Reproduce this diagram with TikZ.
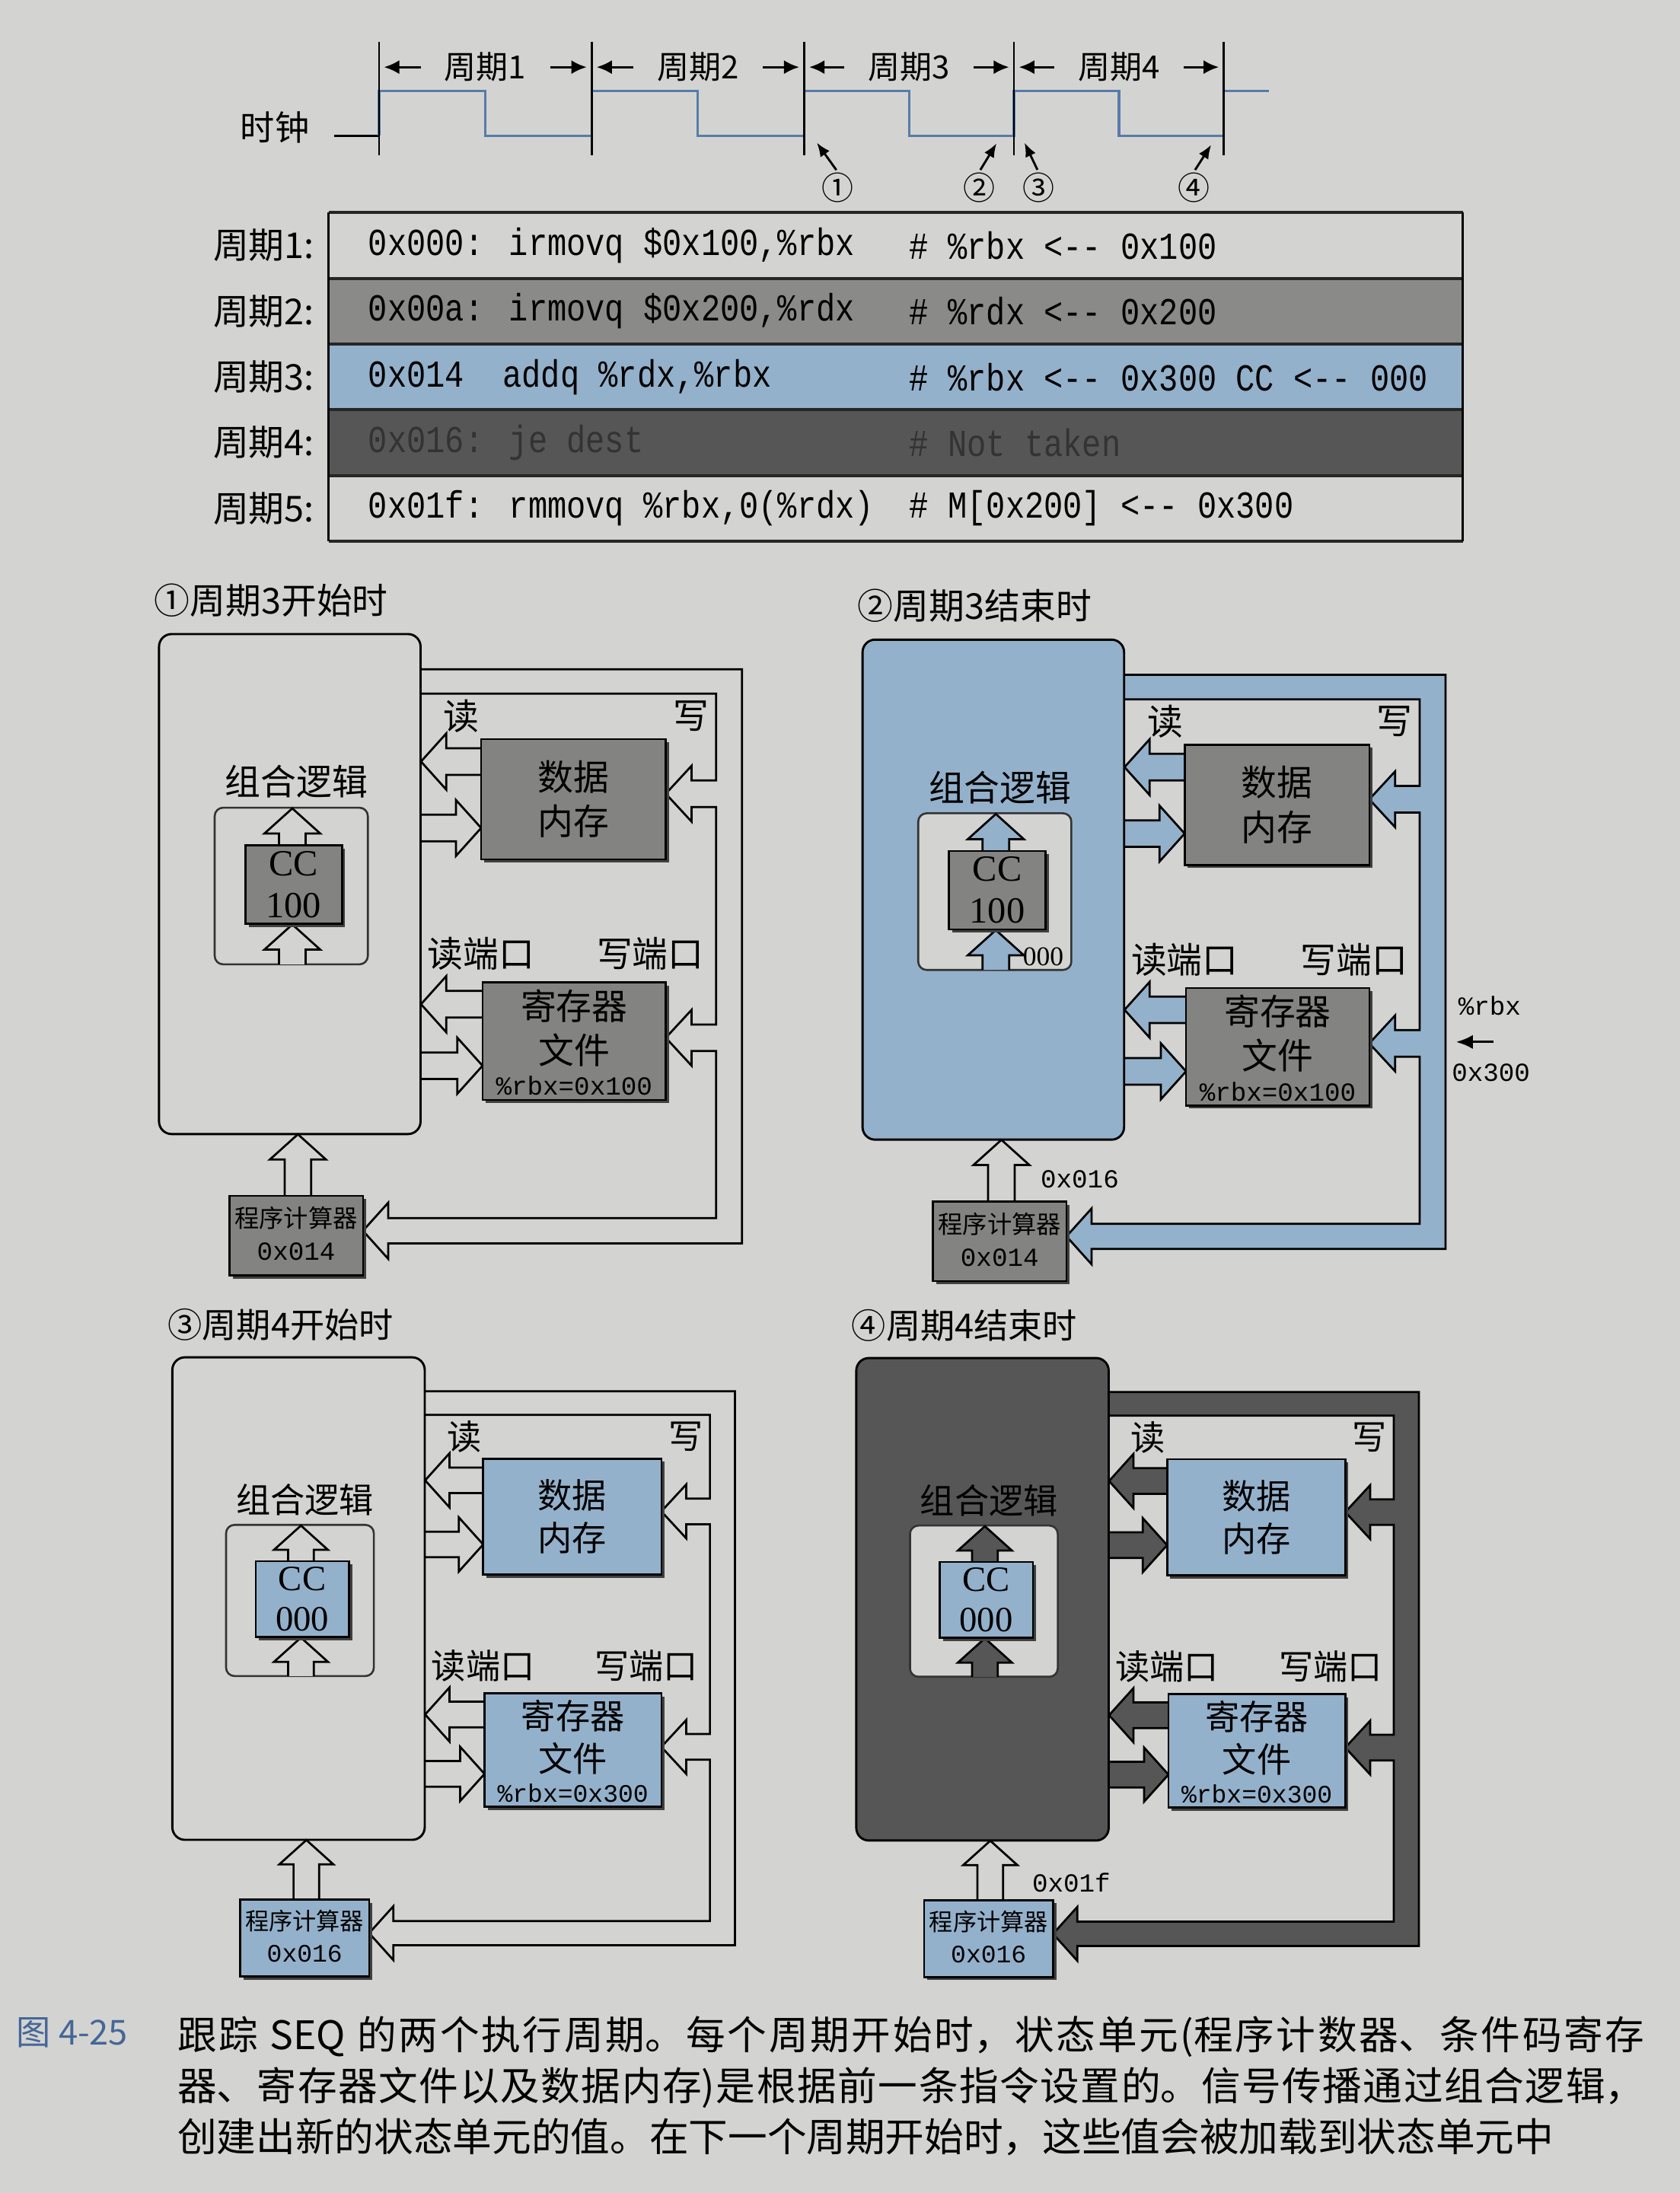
\documentclass[tikz,border=0pt]{standalone}
\usepackage{fontspec}
\setmainfont{Liberation Serif}
\setmonofont{Liberation Mono}
\newfontfamily\cjk{Noto Sans CJK SC}
\newfontfamily\codefont{Liberation Mono}[FakeStretch=0.84]
\usetikzlibrary{arrows.meta,shadows}
\setlength{\parindent}{0pt}
\XeTeXlinebreaklocale "zh"
\XeTeXlinebreakskip=0pt plus 1.2pt
\newlength{\unitlen}
\setlength{\unitlen}{0.2mm}
\definecolor{paper}{RGB}{211,212,209}
\definecolor{stategray}{RGB}{131,131,129}
\definecolor{rowgray}{RGB}{138,138,136}
\definecolor{seqblue}{RGB}{148,177,203}
\definecolor{logicdark}{RGB}{86,86,86}
\definecolor{clockblue}{RGB}{88,124,170}
\definecolor{captionblue}{RGB}{70,102,152}
\tikzset{
  every node/.style={inner sep=0pt},
  paneltitle/.style={anchor=west,font=\cjk\fontsize{14.5}{17}\selectfont},
  paneltext/.style={font=\cjk\fontsize{14.5}{18}\selectfont,align=center},
  valuetext/.style={font=\ttfamily\fontsize{10.6}{12}\selectfont},
  flowline/.style={draw=black,line width=0.85pt,line join=miter},
  logicbox/.style={draw=black,line width=0.9pt,rounded corners=1.8mm,
    minimum width=187\unitlen,minimum height=357.5\unitlen},
  ccframe/.style={draw=black!80,line width=0.8pt,rounded corners=1.2mm,fill=paper,
    minimum width=109.5\unitlen,minimum height=112\unitlen},
  statebox/.style={draw=black,line width=0.8pt,
    general shadow={fill=black!75,shadow xshift=1.3pt,shadow yshift=-1.3pt}},
  cyclelabel/.style={font=\cjk\fontsize{13}{15}\selectfont},
  periodarrow/.style={-{Latex[length=2.2mm,width=2mm]},line width=1pt,
    shorten <=9.5pt,shorten >=2pt},
  marker/.style={font=\cjk\fontsize{13}{15}\selectfont},
  markarrow/.style={-{Latex[length=2mm,width=1.6mm]},line width=0.9pt,shorten <=1pt},
  rowlabel/.style={anchor=east,font=\cjk\fontsize{14.5}{16}\selectfont},
  code/.style={anchor=west,font=\codefont\fontsize{15.5}{18}\selectfont},
  caption/.style={anchor=north west,text width=1049\unitlen,align=justify,
    font=\cjk\fontsize{16}{20.8}\selectfont}
}
% hollow arrows: tail, tip, centre line, fill
\newcommand{\flowleft}[4]{%
  \filldraw[flowline,fill=#4] (#1,#3-9.5) -- (#2+18,#3-9.5) -- (#2+18,#3-20)
    -- (#2,#3) -- (#2+18,#3+20) -- (#2+18,#3+9.5) -- (#1,#3+9.5);}
\newcommand{\flowright}[4]{%
  \filldraw[flowline,fill=#4] (#1,#3-9.5) -- (#2-18,#3-9.5) -- (#2-18,#3-20)
    -- (#2,#3) -- (#2-18,#3+20) -- (#2-18,#3+9.5) -- (#1,#3+9.5);}
\newcommand{\flowup}[4]{%
  \filldraw[flowline,fill=#4] (#1-9.5,#2) -- (#1-9.5,#3+18) -- (#1-20,#3+18)
    -- (#1,#3) -- (#1+20,#3+18) -- (#1+9.5,#3+18) -- (#1+9.5,#2);}
% one SEQ snapshot: name, scope, title, logic fill, flow fill, state fill, CC, %rbx, PC
\newcommand{\seqpanel}[9]{%
  \begin{scope}[#2]
    \node[paneltitle] (#1-title) at (110,429) {#3};
    % bus from the logic back to memory, registers and PC
    \filldraw[flowline,fill=#5] (301,478.5) -- (530.5,478.5) -- (530.5,889)
      -- (277.5,889) -- (277.5,900) -- (259.5,880) -- (277.5,860) -- (277.5,871)
      -- (512,871) -- (512,751.5) -- (494.5,751.5) -- (494.5,762) -- (476,742)
      -- (494.5,722) -- (494.5,732.5) -- (512,732.5) -- (512,577) -- (494.5,577)
      -- (494.5,587.5) -- (476,567.5) -- (494.5,547.5) -- (494.5,558) -- (512,558)
      -- (512,496) -- (301,496);
    \flowleft{344}{301}{544.5}{#5}
    \flowright{301}{344}{592}{#5}
    \flowleft{345}{301}{718}{#5}
    \flowright{301}{345}{762}{#5}
    \node[logicbox,fill=#4] (#1-logic) at (207.2,632.1) {};
    \node[paneltext] (#1-logiclabel) at (212,559) {组合逻辑};
    \node[ccframe] (#1-ccframe) at (208.25,633.5) {};
    \flowup{209}{604.5}{578}{#5}
    \flowup{209}{689.5}{661}{#5}
    \node[statebox,fill=#6,minimum width=69\unitlen,minimum height=56\unitlen,
      font=\fontsize{15}{17}\selectfont,align=center] (#1-cc) at (210,632.5) {CC\\#7};
    \node[statebox,fill=#6,minimum width=132\unitlen,minimum height=86\unitlen,
      paneltext] (#1-mem) at (410,571.4) {数据\\内存};
    \node[statebox,fill=#6,minimum width=131\unitlen,minimum height=84\unitlen]
      (#1-reg) at (410.5,744.4) {};
    \node[paneltext] (#1-regtext) at (410.5,735) {寄存器\\文件};
    \node[valuetext] (#1-rbx) at (410.5,776.5) {\%rbx=#8};
    \flowup{213}{855}{811}{paper}
    \node[statebox,fill=#6,minimum width=95.5\unitlen,minimum height=57\unitlen]
      (#1-pc) at (211.75,883.5) {};
    \node[font=\cjk\fontsize{10}{12}\selectfont] (#1-pcname) at (211.75,871) {程序计算器};
    \node[valuetext] (#1-pcval) at (211.75,895) {#9};
    \node[paneltext] (#1-read) at (330,512) {读};
    \node[paneltext] (#1-write) at (494,512) {写};
    \node[paneltext] (#1-readport) at (344,682) {读端口};
    \node[paneltext] (#1-writeport) at (465,682) {写端口};
  \end{scope}}

\begin{document}
\begin{tikzpicture}[x=0.2mm,y=-0.2mm]
  \fill[paper] (0,0) rectangle (1201,1568);
  \useasboundingbox (0,0) rectangle (1201,1568);

  % Clock and cycle boundaries.
  \node[font=\cjk\fontsize{14}{16}\selectfont] (clock) at (196.5,91) {时钟};
  \draw[line width=0.9pt] (239,97) -- (271,97);
  \draw[draw=clockblue,line width=1pt] (271,97) -- (271,65) -- (347,65) -- (347,97)
    -- (423,97) -- (423,65) -- (499,65) -- (499,97) -- (575,97) -- (575,65)
    -- (650,65) -- (650,97) -- (725,97) -- (725,65) -- (800,65) -- (800,97)
    -- (875,97) -- (875,65) -- (907,65);
  \foreach \x [count=\i] in {271,423,575,725,875} {
    \draw[line width=0.8pt] (\x,30) -- (\x,111);
    \coordinate (edge\i) at (\x,48);
  }
  \foreach \x/\n in {347/1,499/2,650/3,800/4}
    \node[cyclelabel] (period\n) at (\x,48) {周期\n};
  \foreach \n/\m in {1/2,2/3,3/4,4/5} {
    \draw[periodarrow] (period\n.west) -- (edge\n);
    \draw[periodarrow] (period\n.east) -- (edge\m);
  }

  % Moments shown in the four snapshots.
  \node[marker] (mark1) at (599,134) {①};
  \node[marker] (mark2) at (700,134) {②};
  \node[marker] (mark3) at (742.5,134) {③};
  \node[marker] (mark4) at (853.5,134) {④};
  \coordinate (hit1) at (584,102);
  \coordinate (hit2) at (712.5,102.5);
  \coordinate (hit3) at (732.5,102);
  \coordinate (hit4) at (866,103.5);
  \foreach \i in {1,...,4}
    \draw[markarrow] (mark\i.north) -- (hit\i);

  % Program table.
  \foreach \c [count=\i] in {paper,rowgray,seqblue,logicdark,paper}
    \fill[\c] (235,105+47*\i) rectangle (1046,152+47*\i);
  \foreach \i in {0,...,5}
    \draw[line width=1.3pt,black!85] (235,152+47*\i) -- (1046,152+47*\i);
  \draw[line width=0.9pt] (235,152) -- (235,387) (1046,152) -- (1046,387);
  \node[rowlabel] (label1) at (225,175.5) {周期1:};
  \node[rowlabel] (label2) at (225,222.5) {周期2:};
  \node[rowlabel] (label3) at (225,269.5) {周期3:};
  \node[rowlabel] (label4) at (225,316.5) {周期4:};
  \node[rowlabel] (label5) at (225,363.5) {周期5:};
  \node[code] (code1) at (263,175.5) {0x000: irmovq \$0x100,\%rbx};
  \node[code] (note1) at (650,175.5) {\# \%rbx <-{}- 0x100};
  \node[code] (code2) at (263,222.5) {0x00a: irmovq \$0x200,\%rdx};
  \node[code] (note2) at (650,222.5) {\# \%rdx <-{}- 0x200};
  \node[code] (code3) at (263,269.5) {0x014~~addq \%rdx,\%rbx};
  \node[code] (note3) at (650,269.5) {\# \%rbx <-{}- 0x300 CC <-{}- 000};
  \node[code,text=black!80] (code4) at (263,316.5) {0x016: je dest};
  \node[code,text=black!80] (note4) at (650,316.5) {\# Not taken};
  \node[code] (code5) at (263,363.5) {0x01f: rmmovq \%rbx,0(\%rdx)};
  \node[code] (note5) at (650,363.5) {\# M[0x200] <-{}- 0x300};

  % Four snapshots of SEQ.
  \seqpanel{startthree}{}{①周期3开始时}{paper}{paper}{stategray}{100}{0x100}{0x014}
  \seqpanel{endthree}{shift={(503,4)}}{②周期3结束时}{seqblue}{seqblue}{stategray}{100}{0x100}{0x014}
  \seqpanel{startfour}{shift={(13.5,533)},scale=0.965,transform shape}{③周期4开始时}{paper}{paper}{seqblue}{000}{0x300}{0x016}
  \seqpanel{endfour}{shift={(502.5,533.5)},scale=0.965,transform shape}{④周期4结束时}{logicdark}{logicdark}{seqblue}{000}{0x300}{0x016}

  % New values computed at the end of a cycle.
  \node[anchor=west,font=\fontsize{11}{13}\selectfont] (ccnext) at (731,684) {000};
  \node[valuetext] (pcnext) at (772,843) {0x016};
  \node[valuetext] (rbxname) at (1065,719) {\%rbx};
  \node[valuetext] (rbxnew) at (1066,767) {0x300};
  \coordinate (rbxtail) at (1068,745);
  \coordinate (rbxtip) at (1041,745);
  \draw[-{Latex[length=2.4mm,width=2mm]},line width=1pt] (rbxtail) -- (rbxtip);
  \node[valuetext] (pcnextfour) at (766,1346) {0x01f};

  % Caption.
  \node[anchor=west,font=\cjk\fontsize{14}{16}\selectfont,text=captionblue]
    (fignum) at (11.5,1453.5) {图 4-25};
  \node[caption] (captext) at (126.5,1441) {跟踪 SEQ 的两个执行周期。每个周期开始时，状态单元(程序计数器、条件码寄存\linebreak 器、寄存器文件以及数据内存)是根据前一条指令设置的。信号传播通过组合逻辑，\linebreak 创建出新的状态单元的值。在下一个周期开始时，这些值会被加载到状态单元中};
\end{tikzpicture}
\end{document}
